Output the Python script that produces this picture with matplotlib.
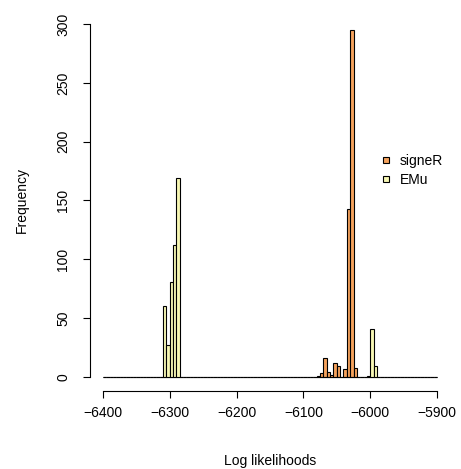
import numpy as np
import matplotlib
matplotlib.use('Agg')
import matplotlib.pyplot as plt
from matplotlib.lines import Line2D

plt.rcParams['font.family'] = ['Liberation Sans', 'DejaVu Sans']

# histogram bins of width 5 from -6400 to -5900
bin_edges = np.arange(-6400, -5895, 5)

# non-zero counts, keyed by the left edge of the bin
signer_left = [-6080, -6075, -6070, -6065, -6060, -6055, -6050, -6040, -6035, -6030, -6025]
signer_count = [1, 3, 16, 4, 2, 12, 9, 7, 143, 295, 8]
emu_left = [-6310, -6305, -6300, -6295, -6290, -6005, -6000, -5995]
emu_count = [60, 27, 81, 112, 169, 1, 41, 9]

col_signer = '#F5A25D'
col_emu = '#F7F7B4'


def full_counts(lefts, counts):
    c = np.zeros(len(bin_edges) - 1)
    for l, n in zip(lefts, counts):
        c[int(round((l - bin_edges[0]) / 5))] = n
    return c


fig = plt.figure(figsize=(4.61, 4.69), dpi=100)
ax = fig.add_axes([0.1944, 0.166, 0.7826, 0.813])

for lefts, counts, col in [(signer_left, signer_count, col_signer),
                           (emu_left, emu_count, col_emu)]:
    c = full_counts(lefts, counts)
    ax.bar(bin_edges[:-1], c, width=5, align='edge', color=col,
           edgecolor='black', linewidth=0.8)

ax.set_xlim(-6420, -5880)
ax.set_ylim(-12, 312)
for s in ['top', 'right']:
    ax.spines[s].set_visible(False)
ax.spines['bottom'].set_bounds(-6400, -5900)
ax.spines['left'].set_bounds(0, 300)
ax.set_xticks(np.arange(-6400, -5850, 100))
ax.set_xticklabels([str(int(v)).replace('-', '\u2212') for v in np.arange(-6400, -5850, 100)])
ax.set_yticks(np.arange(0, 301, 50))
ax.tick_params(axis='both', length=5, width=0.8, labelsize=10, pad=6)
ax.tick_params(axis='y', pad=9)
plt.setp(ax.get_yticklabels(), rotation=90, va='center')
ax.set_xlabel('Log likelihoods', fontsize=10, labelpad=24)
ax.set_ylabel('Frequency', fontsize=10, labelpad=20)

handles = [Line2D([], [], marker='s', linestyle='none', markersize=5,
                  markerfacecolor=col_signer, markeredgecolor='black', markeredgewidth=0.8),
           Line2D([], [], marker='s', linestyle='none', markersize=5,
                  markerfacecolor=col_emu, markeredgecolor='black', markeredgewidth=0.8)]
ax.legend(handles, ['signeR', 'EMu'], loc='upper left', bbox_to_anchor=(0.805, 0.622),
          frameon=False, fontsize=10, handlelength=0.8, handletextpad=0.6,
          labelspacing=0.35, borderaxespad=0, borderpad=0)

fig.savefig('out.png', dpi=100)
